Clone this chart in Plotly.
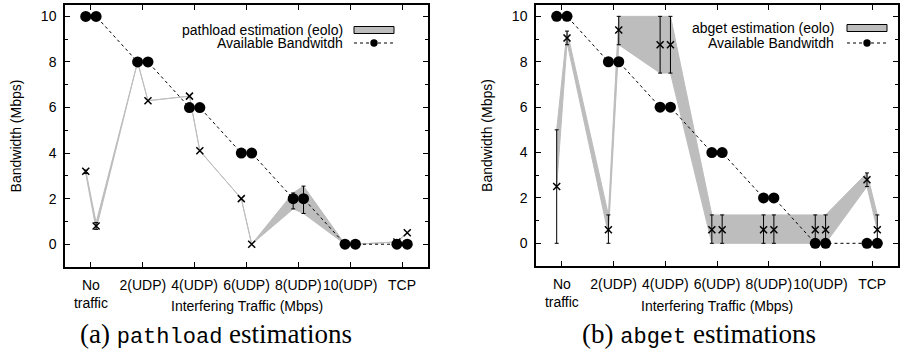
import plotly.graph_objects as go

# ---------------- data ----------------
categories = ["No<br>traffic", "2(UDP)", "4(UDP)", "6(UDP)", "8(UDP)", "10(UDP)", "TCP"]
run_offsets = [-0.1, 0.1]          # two runs per category

avail_bw = [10, 10, 8, 8, 6, 6, 4, 4, 2, 2, 0, 0, 0, 0]

pathload_est = [3.2, 0.8, 8.0, 6.3, 6.5, 4.1, 2.0, 0.0, 2.0, 2.0, 0.0, 0.0, 0.1, 0.5]
pathload_lo  = [3.1, 0.65, 8.0, 6.3, 6.5, 4.1, 2.0, 0.0, 1.55, 1.35, 0.0, 0.0, 0.1, 0.5]
pathload_hi  = [3.25, 0.95, 8.0, 6.3, 6.5, 4.1, 2.0, 0.0, 2.25, 2.55, 0.0, 0.0, 0.1, 0.5]
pathload_band_lo = pathload_lo
pathload_band_hi = pathload_hi

abget_est = [2.5, 9.05, 0.6, 9.4, 8.75, 8.75, 0.6, 0.6, 0.6, 0.6, 0.6, 0.6, 2.8, 0.6]
abget_lo  = [0.0, 8.75, 0.0, 8.75, 7.5, 7.5, 0.0, 0.0, 0.0, 0.0, 0.0, 0.0, 2.5, 0.0]
abget_hi  = [5.0, 9.35, 1.25, 10.0, 10.0, 10.0, 1.25, 1.25, 1.25, 1.25, 1.25, 1.25, 3.1, 1.25]
abget_band_lo = [2.5, 8.85, 0.4, 8.75, 7.5, 7.5, 0.0, 0.0, 0.0, 0.0, 0.0, 0.0, 2.5, 0.6]
abget_band_hi = [5.0, 9.35, 1.25, 10.0, 10.0, 10.0, 1.25, 1.25, 1.25, 1.25, 1.25, 1.25, 3.1, 1.25]

y_ticks = [0, 2, 4, 6, 8, 10]
x_title = "Interfering Traffic (Mbps)"
y_title = "Bandwidth (Mbps)"
legend_est = ["pathload estimation (eolo)", "abget estimation (eolo)"]
legend_avail = "Available Bandwitdh"
caption_parts = [("(a) ", "pathload", " estimations"), ("(b) ", "abget", " estimations")]

# ---------------- style ----------------
W, H = 901, 356
FONT = "Liberation Sans"
GRAY = "#bdbdbd"
xs = [c + o for c in range(len(categories)) for o in run_offsets]

fig = go.Figure()

panels = [
    dict(est=pathload_est, lo=pathload_lo, hi=pathload_hi, blo=pathload_band_lo, bhi=pathload_band_hi,
         xdom=(65, 428), ydom=(5, 267), leg_text_x=345, leg_y=(30, 43), leg_sample=(354, 394),
         cap_x=216, xa="x", ya="y"),
    dict(est=abget_est, lo=abget_lo, hi=abget_hi, blo=abget_band_lo, bhi=abget_band_hi,
         xdom=(536, 898), ydom=(5, 266), leg_text_x=836, leg_y=(28, 43), leg_sample=(847, 887),
         cap_x=699, xa="x2", ya="y2"),
]

def px(x):
    return x / W

def py(y):
    return 1 - y / H

shapes = []
annotations = []

for i, p in enumerate(panels):
    xa, ya = p["xa"], p["ya"]
    # band (filled between low and high)
    fig.add_trace(go.Scatter(x=xs, y=p["blo"], mode="lines", line=dict(color=GRAY, width=1),
                             showlegend=False, hoverinfo="skip", xaxis=xa, yaxis=ya))
    fig.add_trace(go.Scatter(x=xs, y=p["bhi"], mode="lines", line=dict(color=GRAY, width=1),
                             fill="tonexty", fillcolor=GRAY,
                             showlegend=False, hoverinfo="skip", xaxis=xa, yaxis=ya))
    # error bars only where there is a range
    idx = [k for k in range(len(xs)) if p["hi"][k] - p["lo"][k] > 1e-9]
    fig.add_trace(go.Scatter(
        x=[xs[k] for k in idx], y=[p["est"][k] for k in idx], mode="markers",
        marker=dict(size=1, color="rgba(0,0,0,0)"),
        error_y=dict(type="data", symmetric=False,
                     array=[p["hi"][k] - p["est"][k] for k in idx],
                     arrayminus=[p["est"][k] - p["lo"][k] for k in idx],
                     color="black", thickness=1, width=2),
        showlegend=False, hoverinfo="skip", xaxis=xa, yaxis=ya))
    # estimate markers
    fig.add_trace(go.Scatter(x=xs, y=p["est"], mode="markers",
                             marker=dict(symbol="x-thin", size=7, line=dict(color="black", width=1.5)),
                             showlegend=False, xaxis=xa, yaxis=ya))
    # available bandwidth
    fig.add_trace(go.Scatter(x=xs, y=avail_bw, mode="lines+markers",
                             line=dict(color="black", width=1, dash="3px,3px"),
                             marker=dict(symbol="circle", size=11, color="black"),
                             showlegend=False, xaxis=xa, yaxis=ya))

    # legend (manual, gnuplot style)
    ly1, ly2 = p["leg_y"]
    sx0, sx1 = p["leg_sample"]
    annotations.append(dict(x=px(p["leg_text_x"]), y=py(ly1), xref="paper", yref="paper",
                            text=legend_est[i], showarrow=False, xanchor="right", yanchor="middle",
                            font=dict(family=FONT, size=14, color="black")))
    annotations.append(dict(x=px(p["leg_text_x"]), y=py(ly2), xref="paper", yref="paper",
                            text=legend_avail, showarrow=False, xanchor="right", yanchor="middle",
                            font=dict(family=FONT, size=14, color="black")))
    shapes.append(dict(type="rect", xref="paper", yref="paper",
                       x0=px(sx0), x1=px(sx1), y0=py(ly1 - 3.5), y1=py(ly1 + 3.5),
                       fillcolor=GRAY, line=dict(color="black", width=1)))
    shapes.append(dict(type="line", xref="paper", yref="paper",
                       x0=px(sx0), x1=px(sx1), y0=py(ly2), y1=py(ly2),
                       line=dict(color="black", width=1, dash="3px,3px")))
    cx = (sx0 + sx1) / 2
    shapes.append(dict(type="circle", xref="paper", yref="paper",
                       x0=px(cx - 3.7), x1=px(cx + 3.7), y0=py(ly2 - 3.7), y1=py(ly2 + 3.7),
                       fillcolor="black", line=dict(color="black", width=0)))
    # x axis title (placed like gnuplot, close under the tick labels)
    annotations.append(dict(x=px((p["xdom"][0] + p["xdom"][1]) / 2), y=py(306), xref="paper", yref="paper",
                            text=x_title, showarrow=False, xanchor="center", yanchor="middle",
                            font=dict(family=FONT, size=14, color="black")))
    # caption
    a, tt, b = caption_parts[i]
    cap = a + '<span style="font-family:Liberation Mono;font-size:22px">' + tt + '</span>' + b
    annotations.append(dict(x=px(p["cap_x"]), y=py(334), xref="paper", yref="paper",
                            text=cap, showarrow=False, xanchor="center", yanchor="middle",
                            font=dict(family="Liberation Serif", size=27, color="black")))

def xaxis(dom):
    return dict(domain=[px(dom[0]), px(dom[1])], range=[-0.5, 6.5],
                tickmode="array", tickvals=list(range(len(categories))), ticktext=categories,
                tickangle=0,
                ticks="inside", ticklen=5, tickcolor="black", tickwidth=1,
                showline=True, linecolor="black", linewidth=1.5, mirror="ticks",
                showgrid=False, zeroline=False, ticklabelstandoff=4,
                tickfont=dict(family=FONT, size=14, color="black"))

def yaxis(dom):
    return dict(domain=[py(dom[1]), py(dom[0])], range=[-1, 10.5],
                tickmode="array", tickvals=y_ticks,
                ticks="inside", ticklen=5, tickcolor="black", tickwidth=1,
                minor=dict(ticks="inside", dtick=1, tick0=0, ticklen=3, tickcolor="black", showgrid=False),
                showline=True, linecolor="black", linewidth=1.5, mirror="ticks",
                showgrid=False, zeroline=False, ticklabelstandoff=4,
                tickfont=dict(family=FONT, size=14, color="black"),
                title=dict(text=y_title, font=dict(family=FONT, size=14, color="black"), standoff=16))

fig.update_layout(
    width=W, height=H, margin=dict(l=0, r=0, t=0, b=0),
    paper_bgcolor="white", plot_bgcolor="white", showlegend=False,
    xaxis=dict(xaxis(panels[0]["xdom"]), anchor="y"),
    yaxis=dict(yaxis(panels[0]["ydom"]), anchor="x"),
    xaxis2=dict(xaxis(panels[1]["xdom"]), anchor="y2"),
    yaxis2=dict(yaxis(panels[1]["ydom"]), anchor="x2"),
    shapes=shapes, annotations=annotations,
)

fig.write_html("out.html", config={"displayModeBar": False},
               post_script="document.body.style.margin='0px';")
